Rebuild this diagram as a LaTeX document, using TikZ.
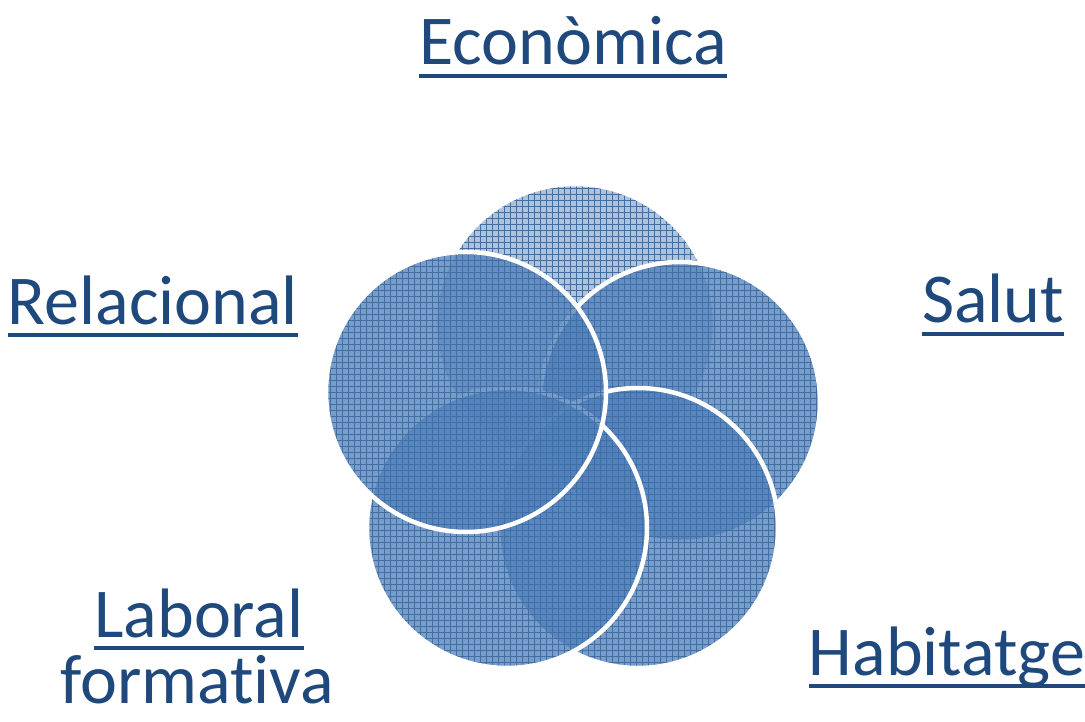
\documentclass[tikz,border=0pt]{standalone}
\usepackage{fontspec}
\setmainfont{Carlito}[Ligatures=NoCommon]
\usetikzlibrary{positioning, patterns.meta}
\definecolor{accent}{RGB}{79,129,189}
\definecolor{labelblue}{RGB}{31,73,125}
\tikzset{
    bubble/.style={
        circle, minimum size=280pt, inner sep=0pt,
        fill=accent, fill opacity=0.78,
        postaction={fill opacity=0.25, pattern color=accent!85!black,
            pattern={Hatch[angle=0, distance=6pt, line width=0.8pt]}},
        postaction={draw=white, line width=4.5pt}
    },
    faint/.style={fill opacity=0.48},
    area/.style={
        text=labelblue, inner sep=0pt, anchor=base,
        font=\fontsize{70}{73}\selectfont
    },
    underlined/.style={
        append after command={\pgfextra{
            \draw[labelblue, line width=4.5pt]
                ([yshift=-11pt]\tikzlastnode.base west) --
                ([yshift=-11pt]\tikzlastnode.base east);}}
    }
}
\begin{document}
\begin{tikzpicture}[x=1pt, y=-1pt]
\useasboundingbox (0,0) rectangle (1085,722);

% Circles (back to front)
\node[bubble, faint] (economica) at (575,324) {};
\node[bubble] (salut) at (680,402) {};
\node[bubble] (habitatge) at (638,528) {};
\node[bubble] (laboral) at (507,528) {};
\node[bubble] (relacional) at (466,392) {};

% Labels
\node[area, underlined] (economicalabel) at (573,65) {Econòmica};
\node[area, underlined] (relacionallabel) at (153,324) {Relacional};
\node[area, underlined] (salutlabel) at (993,323) {Salut};
\node[area, underlined] (habitatgelabel) at (947,675) {Habitatge};
\node[area, underlined] (laborallabel) at (199,637) {Laboral};
\node[area] (formativalabel) at (197,703) {formativa};

\end{tikzpicture}
\end{document}
